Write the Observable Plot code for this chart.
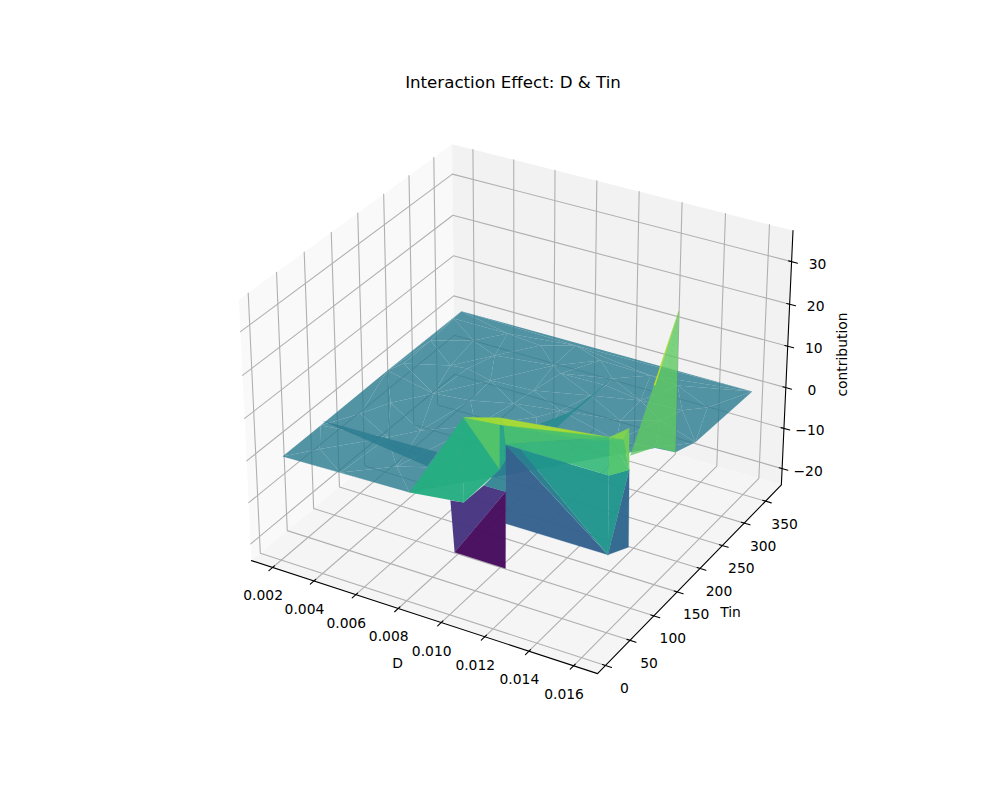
<!DOCTYPE html>
<html><head><meta charset="utf-8">
<script src="https://cdn.jsdelivr.net/npm/d3@7"></script>
<script src="https://cdn.jsdelivr.net/npm/@observablehq/plot@0.6"></script>
<style>body{margin:0;background:#fff}</style>
</head><body><div id="c"></div>
<script>
const xlim=[.00097,.01706], ylim=[-16.1,387.6], zlim=[-24.1,37.2];
const Dticks=[.002,.004,.006,.008,.010,.012,.014,.016], Tinticks=[0,50,100,150,200,250,300,350], Cticks=[-20,-10,0,10,20,30];
// flat part of the surface: nodes
const planeD=[.00198,.01600,.00202,.01585,.01552,.01465,.00788,.00202,.00471,.00376,.00778,.00774,.00478,.00792,.00810,.01046,.00403,.00464,.01499,.01308,.01234,.00837,.00196,.00290,.00488,.00470,.00201,.00223,.01035,.01382,.01240,.00988,.00613,.00574,.00626,.00645,.00928,.01171,.00218,.00520,.01050,.01420,.00930,.01300,.00350,.00750,.01040,.00300,.00640,.01127,.01296,.01397];
const planeTin=[361.6,362.8,9.0,241.7,214.2,211.4,14.1,343.1,343.3,311.8,307.3,356.7,256.4,217.1,250.8,314.1,253.0,193.5,310.1,335.1,288.2,296.1,210.7,120.7,93.6,12.1,79.7,231.8,271.4,262.4,241.9,228.9,246.6,122.3,200.2,338.1,341.5,339.6,288.8,295,298,292,205,205,155,158,152,40,50,112.8,162.1,191.7];
const planeOutline=[0,1,3,4,5,51,50,49,6,2];
// raised and sunken part of the surface
const solidName=["P1","P2","P3","P4","P5","P6","P7","P8","P9","Y1","P10","P11","P12","P13","P14","P15","P16","P17","P25","P26","P27","P29","P18","P19","P20","P21","S1","S2","M1","fa","fb","fc","ga","gb","gc","gd","ge"];
const solidD=[.01037,.00788,.01032,.01032,.01032,.01046,.01041,.00800,.00776,.01057,.01523,.01567,.01569,.01513,.01565,.01516,.01433,.01548,.01049,.00965,.01049,.01043,.01438,.01486,.01559,.01603,.01460,.01495,.01100,.00192,.00722,.00744,.01046,.01030,.00970,.01043,.01041];
const solidTin=[15.2,14.1,15.9,86.0,86.7,91.5,93.0,93.4,96.3,86.4,86.8,109.3,106.7,90.9,106.8,89.6,89.5,103.5,86.4,83.0,90.4,92.7,171.2,201.7,210.5,187.6,207.9,194.4,97.7,88.5,94.0,65.7,313.4,231.0,195.1,197.7,205.4];
const solidC=[21,0,1.3,1.5,13.5,7,-22.9,-22.9,-11,-11,-11,-11,7.5,7,17,16,14,14.5,12,-3,-4,3,2,1.5,.5,36,15,17,6,0,0,0,0,0,0,0,0];
const facetNodes=[["fa","fb","fc"],["ga","gb","gc","gd","ge"],
["P18","P21","P19"],["P19","P21","P20"],["P21","S1","S2"],
["P6","Y1","P10"],["P6","M1","P10"],["M1","P13","P10"],["P13","P12","P10"],["P12","P11","P10"],
["P9","P3","P26","P27","P8"],["P8","P7","P27"],["P26","P4","P29","P27"],
["P2","P1","P3"],["P1","P3","P4"],["P1","P4","P5"],
["P5","P25","P6","P29","P4"],
["P1","P5","P25"],["P5","P15","P16","P25"],["P15","P17","P16"],
["P25","P15","P6"],["P6","P15","P13"],
["P15","P17","P12"],["P15","P12","P13"],["P17","P14","P12"],["P15","P14","P17"]];
const facetValue=[0,3,16.6,16.6,25,-5,.5,5.4,5.4,-3.9,-12.7,-18.5,.5,10.3,10.3,15.6,9.3,22,22.5,25.4,14.5,12.6,15.1,15.1,18,19.5];
const facetAlpha=[.8,.8,.8,.8,.9,.97,.97,.97,.97,.97,.97,.97,.9,.97,.97,.97,.85,.97,.97,.97,.92,.92,.97,.97,.97,.97];

const k=1.8294640721620434*25/24/Math.sqrt(41), B=[4*k,4*k,3*k];
const el=Math.PI/6, az=-Math.PI/3;
const w=[Math.cos(el)*Math.cos(az),Math.cos(el)*Math.sin(az),Math.sin(el)];
const nn=Math.hypot(w[0],w[1]);
const u=[-w[1]/nn,w[0]/nn,0];
const v=[w[1]*u[2]-w[2]*u[1],w[2]*u[0]-w[0]*u[2],w[0]*u[1]-w[1]*u[0]];
const dot=(a,b)=>a[0]*b[0]+a[1]*b[1]+a[2]*b[2];
const S=616/0.185;
function proj(D,T,C){const P=[((D-xlim[0])/(xlim[1]-xlim[0])-.5)*B[0],((T-ylim[0])/(ylim[1]-ylim[0])-.5)*B[1],((C-zlim[0])/(zlim[1]-zlim[0])-.5)*B[2]];
 const d=10-dot(w,P);return [204.5+(dot(u,P)/d+.095)*S,712-(dot(v,P)/d+.095)*S,d];}
const [x0,x1]=xlim,[y0,y1]=ylim,[z0,z1]=zlim;
const panes=[{n:"l",f:"#f9f9f9",p:[[x0,y0,z0],[x0,y1,z0],[x0,y1,z1],[x0,y0,z1]]},{n:"b",f:"#f2f2f2",p:[[x0,y1,z0],[x1,y1,z0],[x1,y1,z1],[x0,y1,z1]]},{n:"f",f:"#f5f5f5",p:[[x0,y0,z0],[x1,y0,z0],[x1,y1,z0],[x0,y1,z0]]}];
const pr=panes.flatMap(q=>q.p.map(a=>({n:q.n,f:q.f,a})));
const grid=[];
Dticks.forEach((d,i)=>[[d,y0,z0],[d,y1,z0],[d,y1,z1]].forEach(a=>grid.push({g:"x"+i,a})));
Tinticks.forEach((d,i)=>[[x0,d,z1],[x0,d,z0],[x1,d,z0]].forEach(a=>grid.push({g:"y"+i,a})));
Cticks.forEach((d,i)=>[[x0,y0,d],[x0,y1,d],[x1,y1,d]].forEach(a=>grid.push({g:"z"+i,a})));
const dx=(x1-x0)/12,dy=(y1-y0)/12;
const ticks=[];
Dticks.forEach((d,i)=>[[d,y0-.2*dy,z0],[d,y0+.1*dy,z0]].forEach(a=>ticks.push({g:"x"+i,a})));
Tinticks.forEach((d,i)=>[[x1+.2*dx,d,z0],[x1-.1*dx,d,z0]].forEach(a=>ticks.push({g:"y"+i,a})));
Cticks.forEach((d,i)=>[[x1+.2*dx,y1,d],[x1-.1*dx,y1,d]].forEach(a=>ticks.push({g:"z"+i,a})));
const axes=[[x0,y0,z0],[x1,y0,z0],[x1,y1,z0],[x1,y1,z1]].map(a=>({g:"ax",a}));
const X=d=>proj(...d.a)[0],Y=d=>proj(...d.a)[1];
const font={fontFamily:"DejaVu Sans",fill:"black",stroke:"none"};
// triangulate the flat part, keeping only triangles inside its outline
const nodes=planeD.map((d,i)=>[d/.014,planeTin[i]/350]);
const tri=d3.Delaunay.from(nodes).triangles;
const outline=planeOutline.map(i=>nodes[i]);
const planeRows=[];
for(let i=0;i<tri.length;i+=3){
 const c=[0,1].map(q=>(nodes[tri[i]][q]+nodes[tri[i+1]][q]+nodes[tri[i+2]][q])/3);
 if(!d3.polygonContains(outline,c))continue;
 for(let j=0;j<3;j++){const n=tri[i+j];planeRows.push({g:"t"+i,a:[planeD[n],planeTin[n],0],v:0});}
}
const solidRows=facetNodes.flatMap((f,i)=>f.map(nm=>{const n=solidName.indexOf(nm);return {g:"f"+i,a:[solidD[n],solidTin[n],solidC[n]],v:facetValue[i],o:facetAlpha[i]};}));
const chart=Plot.plot({width:1000,height:800,margin:0,x:{domain:[0,1000],range:[0,1000],axis:null},y:{domain:[0,800],range:[0,800],axis:null},
color:{type:"linear",scheme:"viridis",domain:[-20,28.8]},style:{background:"white"},
marks:[
Plot.line(pr,{x:X,y:Y,z:"n",fill:"f",stroke:"none"}),
Plot.line(grid,{x:X,y:Y,z:"g",stroke:"#b0b0b0",strokeWidth:1.1}),
Plot.line(axes,{x:X,y:Y,z:"g",stroke:"black",strokeWidth:1.1}),
Plot.line(ticks,{x:X,y:Y,z:"g",stroke:"black",strokeWidth:1.1}),
Plot.line(planeRows,{x:X,y:Y,z:"g",fill:"v",stroke:"none",fillOpacity:.8}),
Plot.line(solidRows,{x:X,y:Y,z:"g",fill:"v",stroke:"v",strokeWidth:.4,strokeOpacity:.6,fillOpacity:"o"}),
Plot.text(Dticks,{x:d=>proj(d,y0,z0)[0],y:d=>proj(d,y0,z0)[1],text:d=>d.toFixed(3),dx:-9.5,dy:28.5,fontSize:13.89,...font}),
Plot.text(Tinticks,{x:d=>proj(x1,d,z0)[0],y:d=>proj(x1,d,z0)[1],text:d=>String(d),dx:19,dy:23,fontSize:13.89,...font}),
Plot.text(Cticks,{x:d=>proj(x1,y1,d)[0],y:d=>proj(x1,y1,d)[1],text:d=>(d<0?"\u2212":"")+Math.abs(d),dx:26,dy:2.5,fontSize:13.89,...font}),
Plot.text(["D"],{x:397,y:663,fontSize:13.89,...font}),
Plot.text(["Tin"],{x:730,y:612,fontSize:13.89,...font}),
Plot.text(["contribution"],{x:842,y:354,rotate:-90,fontSize:13.89,...font}),
Plot.text(["Interaction Effect: D & Tin"],{x:512.5,y:82,fontSize:16.67,...font}),
]});
document.getElementById("c").append(chart);
</script></body></html>
